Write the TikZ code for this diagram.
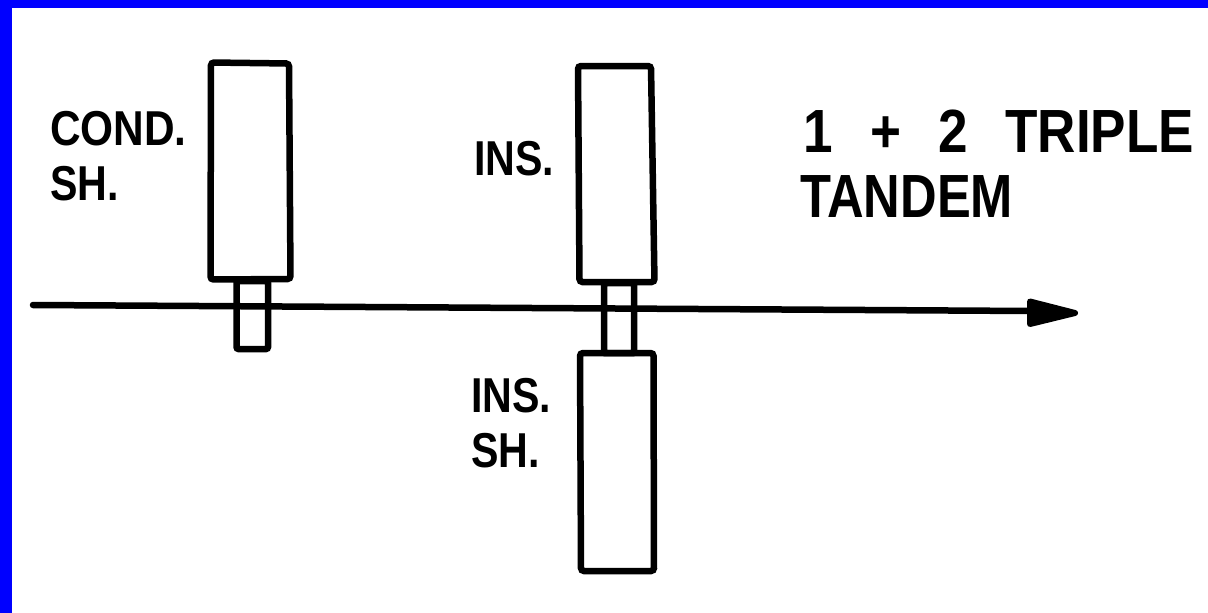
\documentclass[tikz,border=0pt]{standalone}
\usepackage{fontspec}
\setmainfont{Liberation Sans}
\newcommand{\widegaps}{\spaceskip=43pt\relax}
\tikzset{
  x=1pt,y=-1pt,
  box/.style={draw=black,line width=6.5pt,rounded corners=3pt,fill=none},
  lab/.style={anchor=base west,inner sep=0pt,font=\fontsize{49}{49}\selectfont\bfseries,xscale=.84,text=black},
  lab2/.style={anchor=base west,inner sep=0pt,font=\fontsize{61}{61}\selectfont\bfseries,xscale=.87,text=black},
}
\begin{document}
\begin{tikzpicture}
\useasboundingbox (0,0) rectangle (1208,613);
\fill[white] (0,0) rectangle (1208,613);
\fill[blue] (0,0) rectangle (1208,8);
\fill[blue] (0,0) rectangle (12,613);
\coordinate (tl) at (33,305);
\coordinate (tr) at (1032,311);
\coordinate (tip) at (1075,313);
\coordinate (ha) at (1030,301.5);
\coordinate (hb) at (1030,324);
\draw[line width=6.5pt,line cap=round,black] (tl) -- (tr);
\fill[black,draw=black,line width=6pt,line join=round] (ha) -- (tip) -- (hb) -- cycle;
\node[lab,xscale=1.03] (cond) at (50,145) {COND.};
\node[lab] (sh1) at (50,200) {SH.};
\node[lab] (ins1) at (474,175) {INS.};
\node[lab] (ins2) at (471,412) {INS.};
\node[lab] (sh2) at (471,467) {SH.};
\node[lab2] (t1) at (803,152) {\widegaps 1 + 2 TRIPLE};
\node[lab2,xscale=.955] (t2) at (800,217) {TANDEM};
\draw[box] (211,62.5) -- (289,63.5) -- (290.5,279) -- (210.5,279.5) -- cycle;
\draw[box,rounded corners=2pt] (236.5,281) rectangle (268,349);
\draw[box] (578,66) -- (651,66) -- (654.5,282) -- (579.5,282) -- cycle;
\draw[box,rounded corners=1pt] (604,283) rectangle (634,353);
\draw[box] (580,353) -- (653.5,353) -- (654,571) -- (581,571) -- cycle;
\end{tikzpicture}
\end{document}
